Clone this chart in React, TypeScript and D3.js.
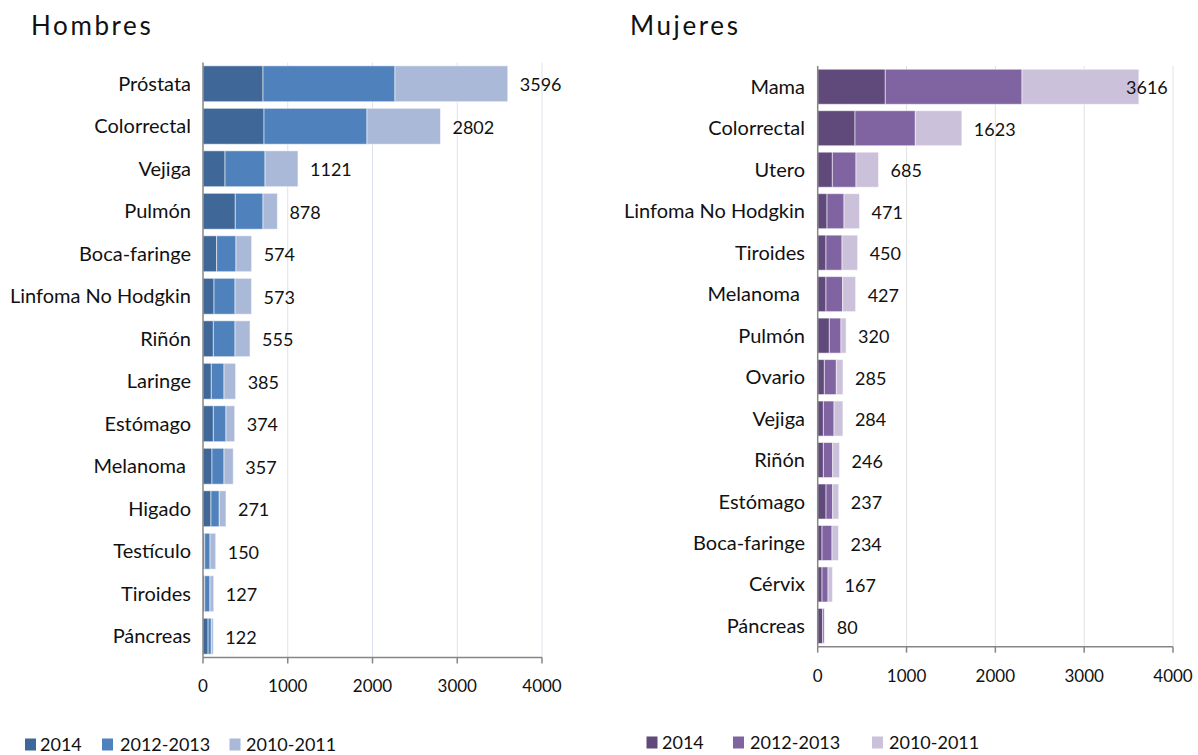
import React from "react";
import * as d3 from "d3";

const seriesNames = ["2014", "2012-2013", "2010-2011"];
const tickValues = [0, 1000, 2000, 3000, 4000];

const menCategories = ["Próstata", "Colorrectal", "Vejiga", "Pulmón", "Boca-faringe", "Linfoma No Hodgkin", "Riñón", "Laringe", "Estómago", "Melanoma ", "Higado", "Testículo", "Tiroides", "Páncreas"];
const men2014 = [708, 720, 260, 381, 161, 130, 122, 98, 122, 106, 94, 20, 20, 60];
const men2012 = [1557, 1215, 472, 327, 228, 248, 256, 150, 149, 142, 98, 63, 62, 38];
const men2010 = [1331, 867, 389, 170, 185, 195, 177, 137, 103, 109, 79, 67, 45, 24];

const womenCategories = ["Mama", "Colorrectal", "Utero", "Linfoma No Hodgkin", "Tiroides", "Melanoma ", "Pulmón", "Ovario", "Vejiga", "Riñón", "Estómago", "Boca-faringe", "Cérvix", "Páncreas"];
const women2014 = [761, 420, 165, 105, 93, 93, 131, 75, 64, 64, 94, 49, 49, 56];
const women2012 = [1539, 679, 266, 191, 181, 188, 131, 135, 120, 105, 75, 112, 67, 19];
const women2010 = [1316, 524, 254, 175, 176, 146, 58, 75, 100, 77, 68, 73, 51, 5];

const menColors = ["#3F6797", "#4F81BD", "#A9B9D7"];
const womenColors = ["#604A7B", "#8064A2", "#CCC1DA"];

const FONT = "Lato, 'Open Sans', sans-serif";

type PanelProps = {
  title: string;
  titleX: number;
  categories: string[];
  series: number[][];
  colors: string[];
  x0: number;
  x1: number;
  labelLimit: number;
  yTop: number;
  yBottom: number;
  labelX: number;
  tickBaseline: number;
  gridColor: string;
  legendY: number;
  legendSquareX: number[];
  legendTextX: number[];
};

function Panel(p: PanelProps) {
  const x = d3.scaleLinear().domain([0, 4000]).range([p.x0, p.x1]);
  const y = d3
    .scaleBand<string>()
    .domain(p.categories)
    .range([p.yTop, p.yBottom])
    .paddingInner(0.155)
    .paddingOuter(0.078);
  const rows = p.categories.map((c, i) => {
    const o: any = { cat: c };
    seriesNames.forEach((s, k) => (o[s] = p.series[k][i]));
    return o;
  });
  const stacked = d3.stack<any>().keys(seriesNames)(rows);
  const totals = rows.map((r) => d3.sum(seriesNames, (s) => r[s] as number));

  return (
    <g>
      <text x={p.titleX} y={35} fontSize={26} letterSpacing={2.6} fill="#111" fontFamily={FONT}>
        {p.title}
      </text>
      {tickValues.slice(1).map((t) => (
        <line key={"g" + t} x1={x(t)} x2={x(t)} y1={p.yTop} y2={p.yBottom} stroke={p.gridColor} strokeWidth={1} />
      ))}
      {stacked.map((layer, k) => (
        <g key={layer.key} fill={p.colors[k]}>
          {layer.map((d, i) => (
            <rect
              key={i}
              x={x(d[0])}
              y={y(p.categories[i])}
              width={Math.max(0, x(d[1]) - x(d[0]))}
              height={y.bandwidth()}
              stroke="#ffffff"
              strokeOpacity={0.55}
              strokeWidth={1}
            />
          ))}
        </g>
      ))}
      {p.categories.map((c, i) => {
        const cy = (y(c) as number) + y.bandwidth() / 2;
        const lx = Math.min(x(totals[i]) + 12, p.labelLimit - 47);
        return (
          <g key={"l" + i}>
            <text x={p.labelX} y={cy} dy="0.35em" textAnchor="end" fontSize={20} fill="#111" fontFamily={FONT} style={{ whiteSpace: "pre" }}>
              {c}
            </text>
            <text x={lx} y={cy} dy="0.42em" fontSize={18} fill="#111" fontFamily={FONT}>
              {d3.format("d")(totals[i])}
            </text>
          </g>
        );
      })}
      <line x1={p.x0} x2={p.x0} y1={p.yTop} y2={p.yBottom} stroke="#868686" strokeWidth={1.5} />
      <line x1={p.x0} x2={p.x1} y1={p.yBottom} y2={p.yBottom} stroke="#868686" strokeWidth={1.5} />
      {tickValues.map((t) => (
        <g key={"t" + t}>
          <line x1={x(t)} x2={x(t)} y1={p.yBottom} y2={p.yBottom + 6} stroke="#868686" strokeWidth={1.5} />
          <text x={x(t)} y={p.tickBaseline} textAnchor="middle" fontSize={17} fill="#111" fontFamily={FONT}>
            {d3.format("d")(t)}
          </text>
        </g>
      ))}
      {seriesNames.map((s, k) => (
        <g key={"lg" + s}>
          <rect x={p.legendSquareX[k]} y={p.legendY - 6} width={11} height={12} fill={p.colors[k]} />
          <text x={p.legendTextX[k]} y={p.legendY} dy="0.36em" fontSize={18} fill="#111" fontFamily={FONT}>
            {s}
          </text>
        </g>
      ))}
    </g>
  );
}

export default function App() {
  return (
    <svg
      width={1198}
      height={755}
      viewBox="0 0 1198 755"
      style={{ position: "absolute", left: 0, top: 0, background: "#ffffff" }}
    >
      <rect x={0} y={0} width={1198} height={755} fill="#ffffff" />
      <Panel
        title="Hombres"
        titleX={31}
        categories={menCategories}
        series={[men2014, men2012, men2010]}
        colors={menColors}
        x0={203}
        x1={542}
        labelLimit={600}
        yTop={62.5}
        yBottom={657.5}
        labelX={191}
        tickBaseline={692}
        gridColor="#DCE3EE"
        legendY={744.5}
        legendSquareX={[25, 102, 229.5]}
        legendTextX={[40, 120, 246]}
      />
      <Panel
        title="Mujeres"
        titleX={630}
        categories={womenCategories}
        series={[women2014, women2012, women2010]}
        colors={womenColors}
        x0={817.7}
        x1={1173}
        labelLimit={1173}
        yTop={66}
        yBottom={646.7}
        labelX={805}
        tickBaseline={682}
        gridColor="#E2E2E2"
        legendY={742.5}
        legendSquareX={[646.5, 733, 872]}
        legendTextX={[662, 750, 889]}
      />
    </svg>
  );
}
